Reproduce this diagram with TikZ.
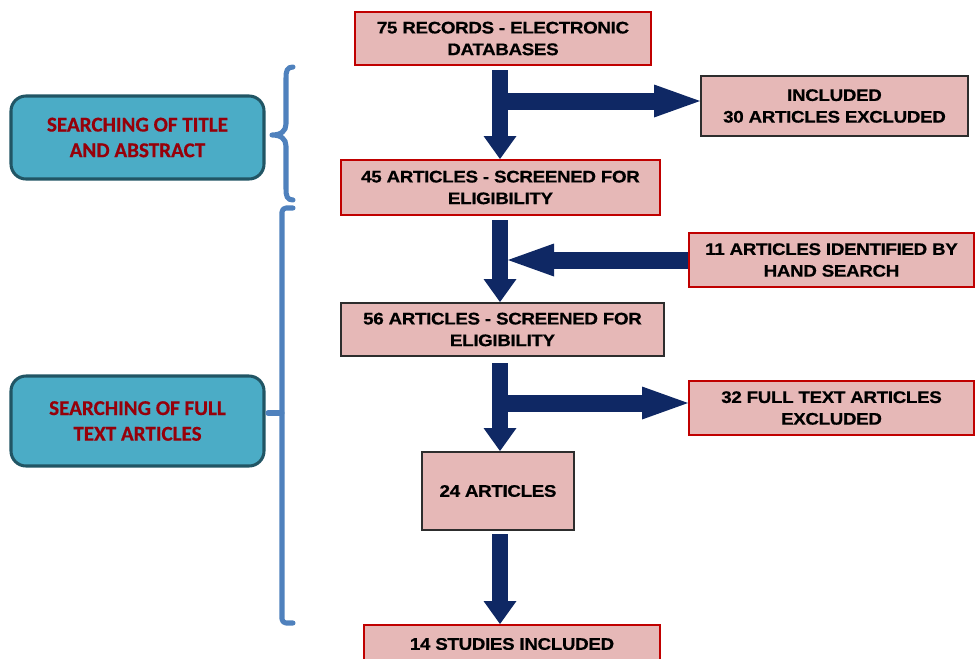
\documentclass[tikz,border=0pt]{standalone}
\usepackage{fontspec}
\setmainfont{Liberation Sans}
\newfontfamily\boxfont[FakeStretch=1.12,LetterSpace=-2,FakeBold=0.6]{Liberation Sans}
\newfontfamily\sidefont[FakeBold=0.5]{Carlito}
\usetikzlibrary{arrows.meta,calc}
\definecolor{pinkfill}{RGB}{230,184,183}
\definecolor{redline}{RGB}{192,0,0}
\definecolor{darkline}{RGB}{45,45,45}
\definecolor{navyarrow}{RGB}{15,40,100}
\definecolor{tealfill}{RGB}{75,172,198}
\definecolor{tealline}{RGB}{33,85,100}
\definecolor{bracecol}{RGB}{79,129,189}
\definecolor{sidetext}{RGB}{150,0,10}
\begin{document}
\begin{tikzpicture}[x=0.03cm,y=-0.03cm,
  stepbox/.style={rectangle, fill=pinkfill, line width=1.7pt, align=center, inner sep=0pt,
    font=\boxfont\bfseries\fontsize{14.3}{18.5}\selectfont, text=black},
  redbox/.style={stepbox, draw=redline},
  darkbox/.style={stepbox, draw=darkline},
  sidebox/.style={rectangle, rounded corners=0.45cm, fill=tealfill, draw=tealline, line width=2.6pt,
    align=center, font=\sidefont\bfseries\fontsize{18}{21.9}\selectfont, text=sidetext,
    minimum width=7.59cm},
  varrow/.style={draw=navyarrow, line width=0.48cm, -{Triangle[width=0.99cm,length=0.69cm,line width=0pt]}},
  harrow/.style={draw=navyarrow, line width=0.51cm, -{Triangle[width=0.99cm,length=1.38cm,line width=0pt]}},
  bracestyle/.style={draw=bracecol, line width=4.3pt, line cap=round, line join=round}]
\useasboundingbox (0,0) rectangle (975,658);
\clip (0,0) rectangle (975,658);

% flow boxes
\node[redbox, minimum width=8.88cm, minimum height=1.59cm] (rec) at (503,38.5) {75 RECORDS - ELECTRONIC\\DATABASES};
\node[darkbox, minimum width=8.01cm, minimum height=1.8cm] (inc) at (834.5,106) {INCLUDED\\30 ARTICLES EXCLUDED};
\node[redbox, minimum width=9.57cm, minimum height=1.65cm] (a45) at (500.5,187.5) {45 ARTICLES - SCREENED FOR\\ELIGIBILITY};
\node[redbox, minimum width=8.55cm, minimum height=1.62cm] (hand) at (831.5,260) {11 ARTICLES IDENTIFIED BY\\HAND SEARCH};
\node[darkbox, minimum width=9.69cm, minimum height=1.59cm] (a56) at (502.5,329.5) {56 ARTICLES - SCREENED FOR\\ELIGIBILITY};
\node[redbox, minimum width=8.55cm, minimum height=1.62cm] (full) at (831.5,408) {32 FULL TEXT ARTICLES\\EXCLUDED};
\node[darkbox, minimum width=4.56cm, minimum height=2.34cm] (a24) at (498,491) {24 ARTICLES};
\node[redbox, minimum width=8.88cm, minimum height=1.14cm] (s14) at (512,644) {14 STUDIES INCLUDED};

% side boxes
\node[sidebox, minimum height=2.49cm] (title) at (137.5,137.5) {SEARCHING OF TITLE\\AND ABSTRACT};
\node[sidebox, minimum height=2.7cm] (ftext) at (137.5,421) {SEARCHING OF FULL\\TEXT ARTICLES};

% braces
\draw[bracestyle] (293,67) .. controls (287,67) and (286,71) .. (286,78) -- (286,124)
  .. controls (286,131) and (281,135) .. (272,135)
  .. controls (281,135) and (286,139) .. (286,146) -- (286,189)
  .. controls (286,196) and (287,200) .. (293,200);
\draw[bracestyle, rounded corners=0.12cm] (293,208) -- (282,208) -- (282,623) -- (293,623);
\draw[bracestyle] (282,413) -- (268,413);

% arrows
\coordinate (sp) at (500,0);
\coordinate (tip2) at (508,0);
\coordinate (b1) at ($(inc.west)+(0,-5)$);
\coordinate (b3) at ($(full.west)+(0,-5)$);
\draw[harrow] (b1 -| sp) -- (b1);
\draw[varrow, shorten <=0.12cm] (rec.south -| sp) -- (a45.north -| sp);
\draw[harrow] (hand.west) -- (hand.west -| tip2);
\draw[varrow, shorten <=0.12cm] (a45.south -| sp) -- (a56.north -| sp);
\draw[harrow] (b3 -| sp) -- (b3);
\draw[varrow, shorten <=0.18cm] (a56.south -| sp) -- (a24.north -| sp);
\draw[varrow, shorten <=0.09cm] (a24.south -| sp) -- (s14.north -| sp);
\end{tikzpicture}
\end{document}
